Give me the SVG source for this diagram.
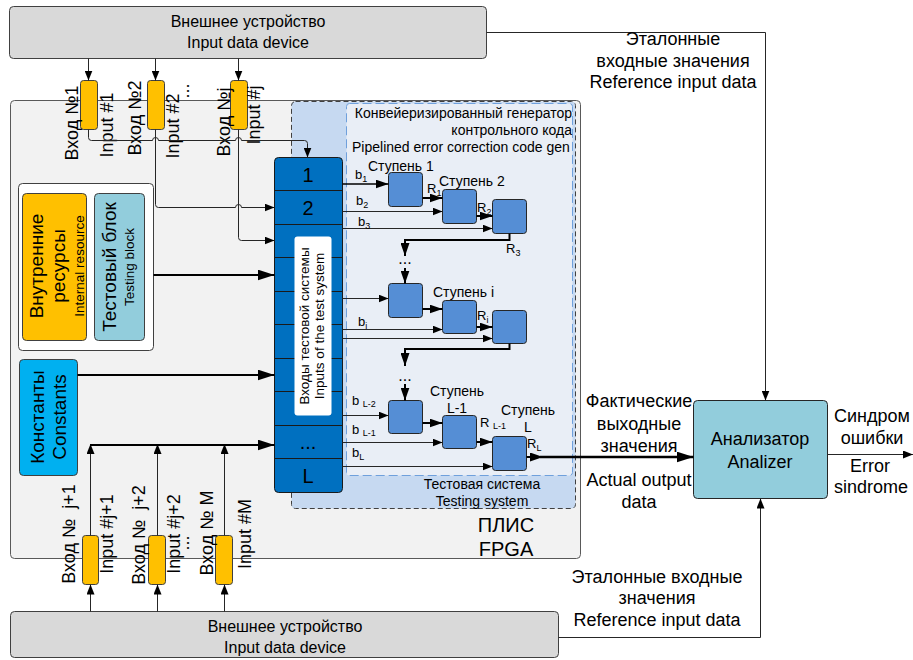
<svg xmlns="http://www.w3.org/2000/svg" width="913" height="660" viewBox="0 0 913 660">
  <style>
    text { font-family: "Liberation Sans", Arial, sans-serif; fill: #000; }
    .ext { fill: #d9d9d9; stroke: #404040; stroke-width: 1; }
    .fpga { fill: #f2f2f2; stroke: #595959; stroke-width: 1; }
    .inp { fill: #ffc000; stroke: #404040; stroke-width: 1; }
    .stage { fill: #558ed5; stroke: #262626; stroke-width: 1; }
    .col { fill: #0070c0; stroke: #1a1a1a; stroke-width: 1; }
    .sep { stroke: #1a1a1a; stroke-width: 1; }
    .ln { fill: none; stroke: #262626; stroke-width: 1; }
    .lnb { fill: none; stroke: #000; stroke-width: 2; }
    .t16 { font-size: 16px; }
    .t18 { font-size: 18px; }
    .t19 { font-size: 19px; }
    .t20 { font-size: 20px; }
    .t14 { font-size: 14px; }
    .t13 { font-size: 13.5px; }
    .sm { font-size: 13px; }
    .mid { text-anchor: middle; }
    .end { text-anchor: end; }
  </style>
  <defs>
    <marker id="ah" markerUnits="userSpaceOnUse" markerWidth="10" markerHeight="8" refX="10" refY="4" orient="auto">
      <path d="M0,0 L10,4 L0,8 z" fill="#000"/>
    </marker>
    <marker id="ahm" markerUnits="userSpaceOnUse" markerWidth="13" markerHeight="9" refX="13" refY="4.5" orient="auto">
      <path d="M0,0 L13,4.5 L0,9 z" fill="#000"/>
    </marker>
    <marker id="ahb" markerUnits="userSpaceOnUse" markerWidth="17" markerHeight="11" refX="17" refY="5.5" orient="auto">
      <path d="M0,0 L17,5.5 L0,11 z" fill="#000"/>
    </marker>
  </defs>

  <!-- external device, top -->
  <g id="ext-top">
    <rect class="ext" x="9.5" y="6.5" width="477" height="52" rx="4"/>
    <text class="t16 mid" x="248" y="27">Внешнее устройство</text>
    <text class="t16 mid" x="248" y="48">Input data device</text>
  </g>

  <!-- FPGA boundary -->
  <g id="fpga">
    <rect class="fpga" x="10.5" y="100.5" width="570" height="458" rx="4"/>
    <text class="t20 mid" x="506" y="532">ПЛИС</text>
    <text class="t20 mid" x="506" y="556">FPGA</text>
  </g>

  <!-- testing system and pipelined generator areas -->
  <g id="testing-system">
    <rect x="291.5" y="101.5" width="284" height="407" rx="4" fill="#c6d9f1" stroke="#404040" stroke-dasharray="5,3"/>
    <rect x="346.5" y="103.5" width="226" height="372" rx="3" fill="#e9eef6" stroke="#6fa0dc" stroke-dasharray="9,4"/>
    <text class="t14 end" x="572" y="118">Конвейеризированный генератор</text>
    <text class="t14 end" x="572" y="135">контрольного кода</text>
    <text class="t14" x="352" y="152">Pipelined error correction code gen</text>
    <text class="t14 mid" x="482" y="489">Тестовая система</text>
    <text class="t14 mid" x="482" y="506">Testing system</text>
  </g>

  <!-- top inputs -->
  <g id="in-1">
    <rect class="inp" x="80.5" y="80.5" width="17" height="49" rx="3"/>
    <text class="t18 mid" transform="translate(78,123) rotate(-90)">Вход №1</text>
    <text class="t18 mid" transform="translate(113,125) rotate(-90)">Input #1</text>
  </g>
  <g id="in-2">
    <rect class="inp" x="147.5" y="80.5" width="17" height="49" rx="3"/>
    <text class="t18 mid" transform="translate(141,118) rotate(-90)">Вход №2</text>
    <text class="t18 mid" transform="translate(179,126) rotate(-90)">Input #2</text>
    <text class="t18 mid" transform="translate(189,91) rotate(-90)">...</text>
  </g>
  <g id="in-j">
    <rect class="inp" x="230.5" y="80.5" width="17" height="49" rx="3"/>
    <text class="t18 mid" transform="translate(230,122) rotate(-90)">Вход №j</text>
    <text class="t18 mid" transform="translate(260,115) rotate(-90)">Input #j</text>
  </g>

  <!-- bottom inputs -->
  <g id="in-j1">
    <rect class="inp" x="82.5" y="535.5" width="16" height="49" rx="3"/>
    <text class="t18 mid" transform="translate(75,534) rotate(-90)">Вход №&#160; j+1</text>
    <text class="t18 mid" transform="translate(113,534) rotate(-90)">Input #j+1</text>
  </g>
  <g id="in-j2">
    <rect class="inp" x="148.5" y="535.5" width="17" height="49" rx="3"/>
    <text class="t18 mid" transform="translate(145,535) rotate(-90)">Вход №&#160; j+2</text>
    <text class="t18 mid" transform="translate(180,534) rotate(-90)">Input #j+2</text>
    <text class="t18 mid" transform="translate(189,543) rotate(-90)">...</text>
  </g>
  <g id="in-m">
    <rect class="inp" x="215.5" y="535.5" width="17" height="49" rx="3"/>
    <text class="t18 mid" transform="translate(213,533) rotate(-90)">Вход № M</text>
    <text class="t18 mid" transform="translate(251,534) rotate(-90)">Input #M</text>
  </g>

  <!-- internal resources and testing block -->
  <g id="internal">
    <rect x="18.5" y="183.5" width="135" height="167" rx="4" fill="#fff" stroke="#404040"/>
    <rect x="22.5" y="193.5" width="64" height="147" rx="4" fill="#ffc000" stroke="#404040"/>
    <text class="t19 mid" transform="translate(43,266) rotate(-90)">Внутренние</text>
    <text class="t19 mid" transform="translate(65,266) rotate(-90)">ресурсы</text>
    <text class="t13 mid" transform="translate(84,266) rotate(-90)">Internal resource</text>
  </g>
  <g id="testing-block">
    <rect x="94.5" y="193.5" width="50" height="147" rx="4" fill="#92cddc" stroke="#404040"/>
    <text class="t19 mid" transform="translate(116,267) rotate(-90)">Тестовый блок</text>
    <text class="t13 mid" transform="translate(134,267) rotate(-90)">Testing block</text>
  </g>

  <!-- constants -->
  <g id="constants">
    <rect x="19.5" y="359.5" width="58" height="116" rx="4" fill="#00b0f0" stroke="#404040"/>
    <text class="t19 mid" transform="translate(44,417) rotate(-90)">Константы</text>
    <text class="t19 mid" transform="translate(66,417) rotate(-90)">Constants</text>
  </g>

  <!-- test system inputs column -->
  <g id="inputs-column">
    <rect class="col" x="274.5" y="157.5" width="68" height="335" rx="4"/>
    <path class="sep" d="M274.5,190.5 H342.5 M274.5,224.5 H342.5 M274.5,257.5 H342.5 M274.5,291.5 H342.5 M274.5,324.5 H342.5 M274.5,358.5 H342.5 M274.5,391.5 H342.5 M274.5,425.5 H342.5 M274.5,458.5 H342.5"/>
    <text class="t20 mid" x="308" y="182">1</text>
    <text class="t20 mid" x="308" y="215">2</text>
    <text class="t20 mid" x="308" y="449">...</text>
    <text class="t20 mid" x="308" y="483">L</text>
    <rect x="294.5" y="236.5" width="37" height="179" rx="3" fill="#fff" stroke="none"/>
    <text class="t13 mid" transform="translate(309,326) rotate(-90)">Входы тестовой системы</text>
    <text class="t13 mid" transform="translate(324,326) rotate(-90)">Inputs of the test system</text>
  </g>

  <!-- pipeline stages -->
  <g id="stage-1">
    <rect class="stage" x="388.5" y="172.5" width="34" height="34" rx="3"/>
    <text class="t14" x="368" y="171">Ступень 1</text>
  </g>
  <g id="stage-2">
    <rect class="stage" x="442.5" y="189.5" width="34" height="34" rx="3"/>
    <text class="t14" x="439" y="186">Ступень 2</text>
  </g>
  <g id="stage-3">
    <rect class="stage" x="492.5" y="199.5" width="34" height="34" rx="3"/>
  </g>
  <g id="stage-i-1">
    <rect class="stage" x="388.5" y="283.5" width="34" height="34" rx="3"/>
  </g>
  <g id="stage-i">
    <rect class="stage" x="442.5" y="300.5" width="34" height="33" rx="3"/>
    <text class="t14" x="433" y="297">Ступень i</text>
  </g>
  <g id="stage-i1">
    <rect class="stage" x="492.5" y="310.5" width="34" height="33" rx="3"/>
  </g>
  <g id="stage-L2">
    <rect class="stage" x="388.5" y="400.5" width="34" height="33" rx="3"/>
  </g>
  <g id="stage-L1">
    <rect class="stage" x="442.5" y="415.5" width="34" height="33" rx="3"/>
    <text class="t14 mid" x="457" y="396">Ступень</text>
    <text class="t14 mid" x="457" y="413">L-1</text>
  </g>
  <g id="stage-L">
    <rect class="stage" x="492.5" y="436.5" width="34" height="34" rx="3"/>
    <text class="t14 mid" x="528" y="415">Ступень</text>
    <text class="t14 mid" x="528" y="432">L</text>
  </g>

  <!-- analyzer -->
  <g id="analyzer">
    <rect x="693.5" y="400.5" width="134" height="98" rx="4" fill="#92cddc" stroke="#262626"/>
    <text class="t18 mid" x="760" y="445">Анализатор</text>
    <text class="t18 mid" x="760" y="468">Analizer</text>
  </g>

  <!-- external device, bottom -->
  <g id="ext-bottom">
    <rect class="ext" x="10.5" y="611.5" width="548" height="46" rx="4"/>
    <text class="t16 mid" x="285" y="632">Внешнее устройство</text>
    <text class="t16 mid" x="285" y="653">Input data device</text>
  </g>

  <!-- connectors -->
  <g id="connectors">
    <!-- device to top inputs -->
    <path class="ln" d="M88.5,58.5 V80.5" marker-end="url(#ah)"/>
    <path class="ln" d="M155.5,58.5 V80.5" marker-end="url(#ah)"/>
    <path class="ln" d="M238.5,58.5 V80.5" marker-end="url(#ah)"/>
    <!-- top inputs to the column -->
    <path class="ln" d="M88.5,129.5 V137.5 Q88.5,140.5 91.5,140.5 H152.5 a3,3 0 0 1 6,0 H235.5 a3,3 0 0 1 6,0 H304.5 Q307.5,140.5 307.5,143.5 V157.5" marker-end="url(#ah)"/>
    <path class="ln" d="M155.5,129.5 V204.5 Q155.5,207.5 158.5,207.5 H235.5 a3,3 0 0 1 6,0 H274.5" marker-end="url(#ah)"/>
    <path class="ln" d="M238.5,129.5 V237.5 Q238.5,240.5 241.5,240.5 H274.5" marker-end="url(#ah)"/>
    <!-- testing block and constants -->
    <path class="lnb" d="M153.5,275 H274.5" marker-end="url(#ahb)"/>
    <path class="lnb" d="M77.5,375 H274.5" marker-end="url(#ahb)"/>
    <!-- device to bottom inputs -->
    <path class="ln" d="M90.5,611.5 V584.5" marker-end="url(#ah)"/>
    <path class="ln" d="M157.5,611.5 V584.5" marker-end="url(#ah)"/>
    <path class="ln" d="M224.5,611.5 V584.5" marker-end="url(#ah)"/>
    <!-- bottom inputs to the column -->
    <path class="ln" d="M90.5,535.5 V444" marker-end="url(#ah)"/>
    <path class="ln" d="M157.5,535.5 V444" marker-end="url(#ah)"/>
    <path class="ln" d="M224.5,535.5 V444" marker-end="url(#ah)"/>
    <path class="lnb" d="M90,445 H274.5" marker-end="url(#ahb)"/>

    <!-- stages 1..3 -->
    <path class="lnb" d="M342.5,184 H388.5" marker-end="url(#ahm)" style="stroke-width:1.5"/>
    <path class="ln" d="M342.5,211.5 H442.5" marker-end="url(#ah)"/>
    <path class="ln" d="M342.5,228.5 H492.5" marker-end="url(#ah)"/>
    <path class="lnb" d="M422.5,198 H442.5" marker-end="url(#ahm)"/>
    <path class="lnb" d="M476.5,216 H492.5" marker-end="url(#ahm)"/>
    <path class="lnb" d="M509.5,233.5 V240 H405 V256" marker-end="url(#ahm)"/>
    <path class="lnb" d="M405,268 V283.5" marker-end="url(#ahm)"/>
    <!-- stages i -->
    <path class="ln" d="M342.5,298.5 H388.5" marker-end="url(#ah)"/>
    <path class="lnb" d="M422.5,309 H442.5" marker-end="url(#ahm)"/>
    <path class="ln" d="M342.5,329.5 H442.5" marker-end="url(#ah)"/>
    <path class="lnb" d="M476.5,327 H492.5" marker-end="url(#ahm)"/>
    <path class="ln" d="M342.5,338.5 H492.5" marker-end="url(#ah)"/>
    <path class="lnb" d="M509.5,343.5 V349 H405 V366" marker-end="url(#ahm)"/>
    <path class="lnb" d="M405,384 V400.5" marker-end="url(#ahm)"/>
    <!-- stages L -->
    <path class="ln" d="M342.5,415.5 H388.5" marker-end="url(#ah)"/>
    <path class="lnb" d="M422.5,423 H442.5" marker-end="url(#ahm)"/>
    <path class="ln" d="M342.5,442.5 H442.5" marker-end="url(#ah)"/>
    <path class="lnb" d="M476.5,442 H492.5" marker-end="url(#ahm)"/>
    <path class="ln" d="M342.5,466.5 H492.5" marker-end="url(#ah)"/>
    <path class="lnb" d="M526.5,457 H543" marker-end="url(#ahm)"/>
    <path class="lnb" d="M540,457 H693.5" marker-end="url(#ahb)" style="stroke-width:2.5"/>

    <!-- reference data and result -->
    <path class="ln" d="M486.5,32.5 H765.5 V400.5" marker-end="url(#ah)"/>
    <path class="ln" d="M558.5,637.5 H760.5 V498.5" marker-end="url(#ah)"/>
    <path class="ln" d="M827.5,454.5 H913" marker-end="url(#ah)"/>
  </g>

  <!-- signal labels -->
  <g id="labels">
    <text class="sm" x="355" y="179">b<tspan font-size="9" dy="3">1</tspan></text>
    <text class="sm" x="427" y="193">R<tspan font-size="9" dy="3">1</tspan></text>
    <text class="sm" x="356" y="205">b<tspan font-size="9" dy="3">2</tspan></text>
    <text class="sm" x="477" y="212">R<tspan font-size="9" dy="3">2</tspan></text>
    <text class="sm" x="358" y="226">b<tspan font-size="9" dy="3">3</tspan></text>
    <text class="sm" x="506" y="253">R<tspan font-size="9" dy="3">3</tspan></text>
    <text class="t16 mid" x="405" y="264">...</text>
    <text class="sm" x="358" y="326">b<tspan font-size="9" dy="3">i</tspan></text>
    <text class="sm" x="477" y="320">R<tspan font-size="9" dy="3">i</tspan></text>
    <text class="t16 mid" x="405" y="381">...</text>
    <text class="sm" x="352" y="405">b <tspan font-size="9" dy="2">L-2</tspan></text>
    <text class="sm" x="352" y="434">b <tspan font-size="9" dy="2">L-1</tspan></text>
    <text class="sm" x="480" y="427">R <tspan font-size="9" dy="2">L-1</tspan></text>
    <text class="sm" x="352" y="457">b<tspan font-size="9" dy="3">L</tspan></text>
    <text class="sm" x="527" y="448">R<tspan font-size="9" dy="3">L</tspan></text>

    <text class="t18 mid" x="673" y="45">Эталонные</text>
    <text class="t18 mid" x="673" y="67">входные значения</text>
    <text class="t18 mid" x="673" y="88">Reference input data</text>

    <text class="t18 mid" x="639" y="407">Фактические</text>
    <text class="t18 mid" x="639" y="430">выходные</text>
    <text class="t18 mid" x="639" y="452">значения</text>
    <text class="t18 mid" x="639" y="486">Actual output</text>
    <text class="t18 mid" x="639" y="508">data</text>

    <text class="t18 mid" x="872" y="422">Синдром</text>
    <text class="t18 mid" x="872" y="444">ошибки</text>
    <text class="t18 mid" x="870" y="472">Error</text>
    <text class="t18 mid" x="871" y="493">sindrome</text>

    <text class="t18 mid" x="657" y="583">Эталонные входные</text>
    <text class="t18 mid" x="657" y="604">значения</text>
    <text class="t18 mid" x="657" y="626">Reference input data</text>
  </g>
</svg>
